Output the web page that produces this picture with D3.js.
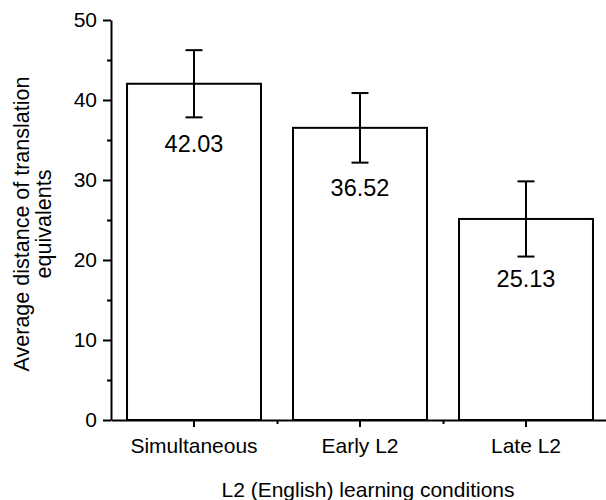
<!DOCTYPE html>
<html><head><meta charset="utf-8">
<script src="https://cdn.jsdelivr.net/npm/d3@7"></script>
<style>body{margin:0;background:#fff}svg{display:block}text{font-family:"Liberation Sans",Arial,sans-serif;fill:#000}</style>
</head><body><svg id="c" width="606" height="500"></svg>
<script>
const categories = ["Simultaneous", "Early L2", "Late L2"];
const means = [42.03, 36.52, 25.13];
const errors = [4.2, 4.35, 4.7];
const yTicks = [0, 10, 20, 30, 40, 50];
const yMinorTicks = [5, 15, 25, 35, 45];

const svg = d3.select("#c");
const x0 = 111, x1 = 609, yTop = 20, yBot = 420;
const x = d3.scaleBand().domain(categories).range([x0, x1]).paddingInner(0.193).paddingOuter(0.0965);
const xb = d3.scaleBand().domain(categories).range([x0, x1]);
const y = d3.scaleLinear().domain([0, 50]).range([yBot, yTop]);

// bars
svg.selectAll("rect.bar").data(categories).enter().append("rect")
  .attr("x", d => x(d)).attr("width", x.bandwidth())
  .attr("y", (d,i) => y(means[i])).attr("height", (d,i) => y(0) - y(means[i]))
  .attr("fill", "#fff").attr("stroke", "#000").attr("stroke-width", 2);

// error bars
const cap = 8.5;
const eg = svg.selectAll("g.err").data(categories).enter().append("g")
  .attr("stroke", "#000").attr("stroke-width", 2);
eg.append("line").attr("x1", d => xb(d) + xb.bandwidth()/2).attr("x2", d => xb(d) + xb.bandwidth()/2)
  .attr("y1", (d,i) => y(means[i] + errors[i])).attr("y2", (d,i) => y(means[i] - errors[i]));
eg.append("line").attr("x1", d => xb(d) + xb.bandwidth()/2 - cap).attr("x2", d => xb(d) + xb.bandwidth()/2 + cap)
  .attr("y1", (d,i) => y(means[i] + errors[i])).attr("y2", (d,i) => y(means[i] + errors[i]));
eg.append("line").attr("x1", d => xb(d) + xb.bandwidth()/2 - cap).attr("x2", d => xb(d) + xb.bandwidth()/2 + cap)
  .attr("y1", (d,i) => y(means[i] - errors[i])).attr("y2", (d,i) => y(means[i] - errors[i]));

// value labels
svg.selectAll("text.val").data(categories).enter().append("text")
  .attr("x", d => xb(d) + xb.bandwidth()/2).attr("y", (d,i) => y(means[i]) + 68)
  .attr("text-anchor", "middle").style("font-size", "23.5px")
  .text((d,i) => means[i].toFixed(2));

// y axis
const yAxis = svg.append("g").attr("transform", `translate(${x0},0)`)
  .call(d3.axisLeft(y).tickValues(yTicks).tickSize(8).tickSizeOuter(0).tickPadding(6));
const yMinor = svg.append("g").attr("transform", `translate(${x0},0)`)
  .call(d3.axisLeft(y).tickValues(yMinorTicks).tickSize(4).tickFormat("").tickSizeOuter(0));
yMinor.select(".domain").remove();
// x axis
const xAxis = svg.append("g").attr("transform", `translate(0,${yBot})`)
  .call(d3.axisBottom(xb).tickSize(7).tickSizeOuter(0).tickPadding(11));
const xMinor = svg.append("g").attr("transform", `translate(0,${yBot})`)
  .call(d3.axisBottom(d3.scaleLinear().domain([x0, x1]).range([x0, x1]))
    .tickValues([xb(categories[1]), xb(categories[2])]).tickSize(4).tickFormat("").tickSizeOuter(0));
xMinor.select(".domain").remove();
svg.selectAll(".domain, .tick line").attr("stroke", "#000").attr("stroke-width", 2);
svg.selectAll(".tick text").style("font-size", "21px").attr("fill", "#000");

// axis titles
svg.append("text").attr("x", 368).attr("y", 497).attr("text-anchor", "middle")
  .style("font-size", "21px").text("L2 (English) learning conditions");
const yt = svg.append("text").attr("transform", "translate(0,224) rotate(-90)")
  .attr("text-anchor", "middle").style("font-size", "21.5px");
yt.append("tspan").attr("x", 0).attr("y", 29).text("Average distance of translation");
yt.append("tspan").attr("x", 0).attr("y", 51).text("equivalents");
</script></body></html>
